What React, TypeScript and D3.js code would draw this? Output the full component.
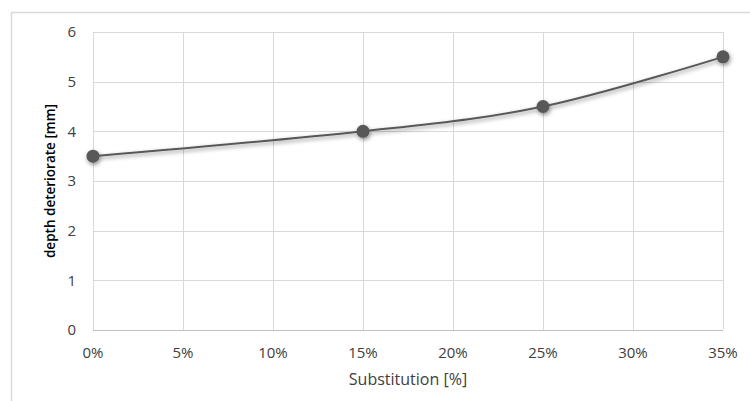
import React from "react";
import * as d3 from "d3";

// Substitution level (fraction) and measured deterioration depth in mm
const substitution = [0, 0.15, 0.25, 0.35];
const depth = [3.5, 4.0, 4.5, 5.5];
const xTicks = [0, 0.05, 0.1, 0.15, 0.2, 0.25, 0.3, 0.35];
const yTicks = [0, 1, 2, 3, 4, 5, 6];

const W = 750;
const H = 401;
const plot = { left: 93, right: 723, top: 32, bottom: 330 };
const font = "'Open Sans', 'Noto Sans', sans-serif";
const textColor = "#404040";
const seriesColor = "#595959";

export default function App() {
  const x = d3.scaleLinear().domain([0, 0.35]).range([plot.left, plot.right]);
  const y = d3.scaleLinear().domain([0, 6]).range([plot.bottom, plot.top]);
  const pts: [number, number][] = substitution.map((s, i) => [x(s), y(depth[i])]);
  const path = d3.line().curve(d3.curveCardinal.tension(0))(pts) || "";
  const pct = d3.format(".0%");

  return (
    <svg
      width={W}
      height={H}
      style={{ position: "absolute", left: 0, top: 0, background: "#fff" }}
    >
      <defs>
        <filter id="shadow" x="-20%" y="-50%" width="140%" height="200%">
          <feDropShadow dx="1" dy="2" stdDeviation="2" floodColor="#000" floodOpacity="0.45" />
        </filter>
      </defs>
      {/* chart frame */}
      <path d={`M11.5,${H} V12.5 H${W}`} fill="none" stroke="#d9d9d9" strokeWidth={1.5} />

      {/* gridlines */}
      {yTicks.map((t) => (
        <line
          key={"gy" + t}
          x1={plot.left}
          x2={plot.right}
          y1={Math.round(y(t)) + 0.5}
          y2={Math.round(y(t)) + 0.5}
          stroke={t === 0 ? "#bfbfbf" : "#d9d9d9"}
          strokeWidth={1}
        />
      ))}
      {xTicks.map((t) => (
        <line
          key={"gx" + t}
          x1={Math.round(x(t)) + 0.5}
          x2={Math.round(x(t)) + 0.5}
          y1={plot.top}
          y2={plot.bottom}
          stroke="#d9d9d9"
          strokeWidth={1}
        />
      ))}

      {/* tick labels */}
      {yTicks.map((t) => (
        <text
          key={"ly" + t}
          x={76}
          y={y(t)}
          dy="0.35em"
          textAnchor="end"
          fontFamily={font}
          fontSize={15}
          fill={textColor}
        >
          {t}
        </text>
      ))}
      {xTicks.map((t) => (
        <text
          key={"lx" + t}
          x={x(t)}
          y={358}
          textAnchor="middle"
          fontFamily={font}
          fontSize={15}
          fill={textColor}
        >
          {pct(t)}
        </text>
      ))}

      {/* axis titles */}
      <text
        x={408}
        y={385}
        textAnchor="middle"
        fontFamily={font}
        fontSize={16}
        fill={textColor}
      >
        Substitution [%]
      </text>
      <text
        transform={`translate(55,${(plot.top + plot.bottom) / 2}) rotate(-90)`}
        textAnchor="middle"
        fontFamily={font}
        fontSize={13.5}
        fontWeight={600}
        fill="#000"
      >
        depth deteriorate [mm]
      </text>

      {/* series */}
      <g filter="url(#shadow)">
        <path d={path} fill="none" stroke={seriesColor} strokeWidth={2} />
        {pts.map(([px, py], i) => (
          <circle key={"p" + i} cx={px} cy={py} r={6.5} fill={seriesColor} />
        ))}
      </g>
    </svg>
  );
}
